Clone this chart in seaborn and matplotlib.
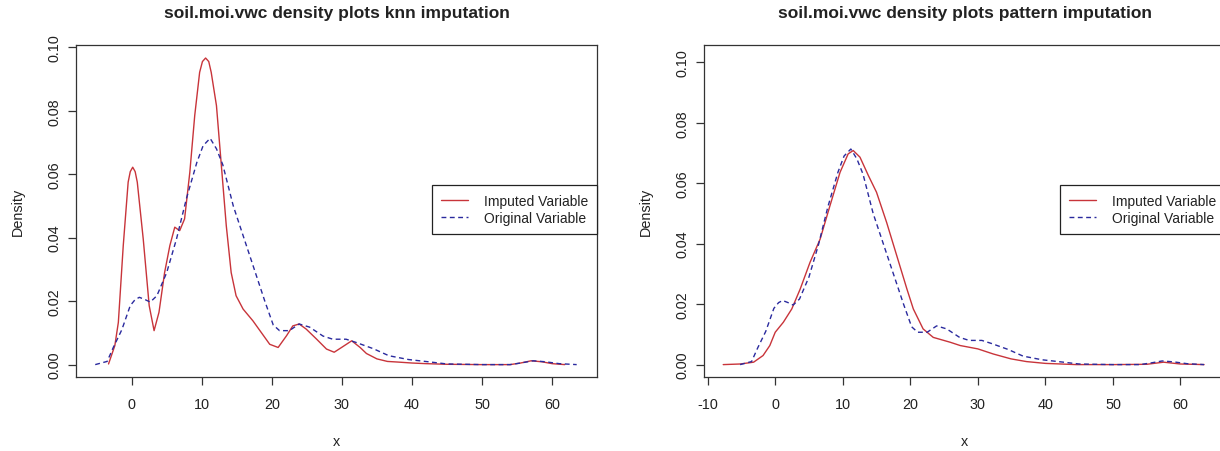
import matplotlib
matplotlib.use("Agg")
import pandas as pd
import seaborn as sns
import matplotlib.pyplot as plt

# density curves (x value, density)

knn_x = [-3.3, -2.4, -1.9, -1.2, -0.5, -0.2, 0.15, 0.5, 0.8, 1.65, 2.5, 3.2, 3.9,
         4.7, 5.45, 6.15, 6.85, 7.55, 8.3, 9.0, 9.7, 10.1, 10.55, 11.0, 11.35,
         12.1, 12.8, 13.5, 14.2, 14.9, 15.9, 17.3, 18.5, 19.7, 20.9, 22.1, 23.0,
         23.9, 24.9, 26.4, 27.8, 28.9, 29.95, 31.4, 32.6, 33.5, 35.0, 36.5, 38.0,
         40.0, 42.0, 45.0, 50.0, 54.0, 55.5, 57.0, 58.5, 60.0, 61.8]
knn_y = [0.0002, 0.006, 0.0133, 0.0375, 0.0575, 0.0608, 0.0622, 0.0608, 0.0575,
         0.0396, 0.0186, 0.0107, 0.0165, 0.029, 0.0375, 0.0433, 0.0422, 0.0459,
         0.0606, 0.0785, 0.0921, 0.0955, 0.0966, 0.0955, 0.0921, 0.0816, 0.0627,
         0.0438, 0.029, 0.0217, 0.0175, 0.0138, 0.0101, 0.0064, 0.0054, 0.0091,
         0.0122, 0.0128, 0.0112, 0.008, 0.0049, 0.0039, 0.0054, 0.0075, 0.0054,
         0.0035, 0.0018, 0.001, 0.0008, 0.0005, 0.0003, 0.0001, 0.0, 0.0, 0.0005,
         0.0012, 0.0009, 0.0003, 0.0]

pattern_x = [-7.7, -5.2, -3.2, -1.8, -0.8, 0.0, 1.2, 2.45, 3.7, 5.15, 6.65, 8.1,
             9.6, 10.8, 11.55, 12.55, 13.8, 15.0, 16.5, 18.0, 19.5, 20.45, 21.9,
             23.4, 25.9, 27.4, 30.0, 32.3, 34.9, 37.2, 40.0, 44.6, 50.0, 55.0,
             57.5, 60.0, 63.5]
pattern_y = [0.0, 0.0002, 0.0008, 0.003, 0.0063, 0.0107, 0.014, 0.0184, 0.025,
             0.0338, 0.0415, 0.0525, 0.0636, 0.0697, 0.0708, 0.0686, 0.0625, 0.057,
             0.047, 0.036, 0.025, 0.0184, 0.0118, 0.009, 0.0074, 0.0063, 0.0052,
             0.0035, 0.0019, 0.001, 0.0004, 0.0, 0.0, 0.0001, 0.0008, 0.0002, 0.0]

orig_x = [-5.2, -3.5, -2.6, -1.4, -0.2, 0.5, 1.1, 1.9, 2.65, 3.6, 5.0, 6.4, 7.8,
          9.3, 10.2, 11.2, 12.1, 13.0, 14.5, 16.0, 17.5, 19.0, 20.2, 21.1, 22.5,
          23.9, 25.4, 27.3, 28.7, 30.6, 32.0, 34.5, 36.7, 39.5, 42.3, 45.0, 50.0,
          54.0, 55.5, 57.3, 59.0, 61.0, 63.5]
orig_y = [0.0, 0.001, 0.0055, 0.011, 0.0186, 0.0205, 0.0212, 0.0205, 0.0197,
          0.0217, 0.029, 0.0396, 0.0522, 0.0637, 0.069, 0.0713, 0.068, 0.063,
          0.050, 0.040, 0.030, 0.020, 0.0125, 0.0107, 0.0107, 0.0128, 0.0118,
          0.009, 0.008, 0.008, 0.007, 0.005, 0.0028, 0.0016, 0.0009, 0.0002, 0.0,
          0.0, 0.0005, 0.0012, 0.0009, 0.0003, 0.0]

titles = ["soil.moi.vwc density plots knn imputation",
          "soil.moi.vwc density plots pattern imputation"]
legend_labels = ["Imputed Variable", "Original Variable"]
y_ticks = [0.00, 0.02, 0.04, 0.06, 0.08, 0.10]
x_ticks_knn = [0, 10, 20, 30, 40, 50, 60]
x_ticks_pattern = [-10, 0, 10, 20, 30, 40, 50, 60]

sns.set_theme(style="white")
plt.rcParams["font.family"] = ["Liberation Sans", "DejaVu Sans"]
plt.rcParams["axes.unicode_minus"] = False

RED = "#c8343a"
BLUE = "#2a2a9e"
TXT = "#222222"

fig = plt.figure(figsize=(12.2, 4.52), dpi=100)
ax1 = fig.add_axes([0.06254, 0.16305, 0.42680, 0.73584])
ax2 = fig.add_axes([0.57730, 0.16305, 0.42680, 0.73584])

panels = [
    (ax1, knn_x, knn_y, x_ticks_knn, (-7.9, 66.4), (-0.004, 0.1008), titles[0]),
    (ax2, pattern_x, pattern_y, x_ticks_pattern, (-10.5, 66.6), (-0.0042, 0.1058), titles[1]),
]

for ax, imp_x, imp_y, xt, xlim, ylim, title in panels:

    imp = pd.DataFrame({"x": imp_x, "density": imp_y})
    orig = pd.DataFrame({"x": orig_x, "density": orig_y})

    sns.lineplot(data=imp, x="x", y="density", ax=ax, color=RED, lw=1.0,
                 label=legend_labels[0], legend=False)
    sns.lineplot(data=orig, x="x", y="density", ax=ax, color=BLUE, lw=1.0,
                 linestyle=(0, (3.5, 2.5)), label=legend_labels[1], legend=False)

    ax.set_xlim(*xlim)
    ax.set_ylim(*ylim)
    ax.set_xticks(xt)
    ax.set_yticks(y_ticks)
    ax.set_yticklabels([f"{v:.2f}" for v in y_ticks], rotation=90, va="center")

    ax.tick_params(axis="both", direction="out", length=6, width=0.9,
                   color="#333333", labelsize=10.4, labelcolor=TXT,
                   left=True, bottom=True)
    ax.tick_params(axis="y", pad=5)
    ax.tick_params(axis="x", pad=8)

    for s in ax.spines.values():
        s.set_color("#333333")
        s.set_linewidth(0.9)

    ax.set_title(title, fontsize=12.5, fontweight="bold", color=TXT, pad=20)
    ax.set_xlabel("x", fontsize=10.4, color=TXT, labelpad=17)
    ax.set_ylabel("Density", fontsize=10.4, color=TXT, labelpad=16)

    leg = ax.legend(loc="upper right", bbox_to_anchor=(1.0, 0.577),
                    borderaxespad=0, fontsize=10, frameon=True, fancybox=False,
                    framealpha=1, edgecolor="#222222", borderpad=0.6,
                    handlelength=1.95, handletextpad=1.2, labelspacing=0.25)
    leg.get_frame().set_linewidth(0.9)
    for t in leg.get_texts():
        t.set_color(TXT)

fig.savefig("out.png", dpi=100)
